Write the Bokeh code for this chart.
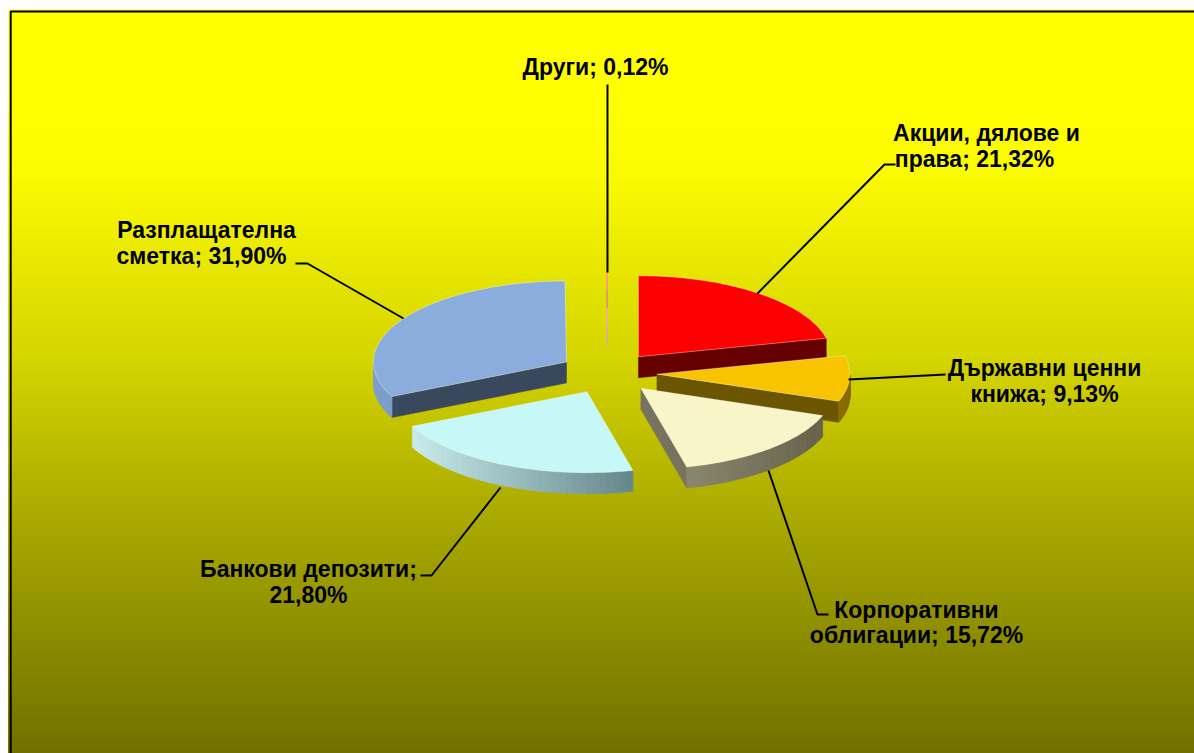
import numpy as np
from bokeh.plotting import figure
from bokeh.models import Range1d
from bokeh.core.properties import value
from bokeh.embed import file_html
from bokeh.resources import INLINE

# ---- data ----
categories = ["Акции, дялове и права", "Държавни ценни книжа", "Корпоративни облигации",
              "Банкови депозити", "Разплащателна сметка", "Други"]
shares = [21.32, 9.13, 15.72, 21.80, 31.90, 0.12]
top_colors = ["#ff0000", "#f8c400", "#f8f6c8", "#c6f8f8", "#8aadde", "#e8a080"]
face_colors = ["#660000", "#6b5500", "#77735e", "#7f9a9a", "#3a485e", "#e8a080"]
rim_left = ["#660000", "#8a6d00", "#8a8770", "#c8ecec", "#7fa0d0", "#e8a080"]
rim_right = ["#660000", "#8a6d00", "#66624c", "#64868c", "#7b9bcc", "#e8a080"]

W, H = 1194, 753
p = figure(width=W, height=H, x_range=Range1d(0, 1194), y_range=Range1d(753, 0),
           output_backend="svg", toolbar_location=None, min_border=0)
p.axis.visible = False
p.grid.visible = False
p.outline_line_color = None
p.background_fill_color = None
p.border_fill_color = "white"

# ---- background gradient ----
g_y = np.array([9, 100, 165, 260, 360, 490, 620, 753], dtype=float)
g_v = np.array([255, 255, 252, 232, 212, 176, 144, 112], dtype=float)
rows = np.arange(9, 753, 1.0)
vals = np.interp(rows, g_y, g_v).round().astype(int)
keep = np.r_[True, vals[1:] != vals[:-1]]
rows, vals = rows[keep], vals[keep]
p.quad(left=8, right=1194, top=rows, bottom=753,
       color=[f"#{v:02x}{v:02x}00" for v in vals], line_color=None)

# border
p.line([10.2, 10.2, 1194], [753, 11, 11], line_color="black", line_width=2)

# ---- pie geometry ----
cx, cy, rx, ry, depth = 607.5, 372.5, 193.0, 81.0, 21.0
ex, ey = 49.0, 20.7

total = sum(shares)
bounds = np.concatenate([[0], np.cumsum(shares) / total * 2 * np.pi])


def hexrgb(h):
    return np.array([int(h[i:i + 2], 16) for i in (1, 3, 5)], dtype=float)


def mix(a, b, t):
    c = hexrgb(a) * (1 - t) + hexrgb(b) * t
    return "#%02x%02x%02x" % tuple(int(round(v)) for v in c)


slices = []
for i in range(len(shares)):
    t0, t1 = bounds[i], bounds[i + 1]
    mid = (t0 + t1) / 2
    ax, ay = cx + ex * np.sin(mid), cy - ey * np.cos(mid)
    slices.append((i, t0, t1, ax, ay))

draw_order = [5, 0, 1, 2, 3, 4]
for i in draw_order:
    _, t0, t1, ax, ay = slices[i]
    if shares[i] < 1:
        # hair-thin slice: only a sliver is visible
        xo = ax + rx * np.sin((t0 + t1) / 2)
        yo = ay - ry
        ye = yo + 0.91 * ry
        seg = np.linspace(yo, ye, 5)
        cols = ["#ff9a80", "#d89a70", "#f0b090", "#d8b090"]
        for k in range(4):
            p.line([xo, xo], [seg[k], seg[k + 1]], line_color=cols[k], line_width=2)
        continue
    th = np.linspace(t0, t1, 90)
    ox = ax + rx * np.sin(th)
    oy = ay - ry * np.cos(th)
    # radial faces
    if np.sin(t0) < 0:
        xe, ye = ax + rx * np.sin(t0), ay - ry * np.cos(t0)
        p.patch([ax, xe, xe, ax], [ay, ye, ye + depth, ay + depth],
                fill_color=face_colors[i], line_color=face_colors[i], line_width=0.5)
    if np.sin(t1) > 0:
        xe, ye = ax + rx * np.sin(t1), ay - ry * np.cos(t1)
        p.patch([ax, xe, xe, ax], [ay, ye, ye + depth, ay + depth],
                fill_color=face_colors[i], line_color=face_colors[i], line_width=0.5)
    # rim
    lo, hi = max(t0, np.pi / 2), min(t1, 3 * np.pi / 2)
    if hi > lo:
        rt = np.linspace(lo, hi, 40)
        rxs = ax + rx * np.sin(rt)
        rys = ay - ry * np.cos(rt)
        xmin, xmax = rxs.min(), rxs.max()
        for k in range(len(rt) - 1):
            t = (0.5 * (rxs[k] + rxs[k + 1]) - xmin) / max(xmax - xmin, 1)
            col = mix(rim_left[i], rim_right[i], t)
            p.patch([rxs[k], rxs[k + 1], rxs[k + 1], rxs[k]],
                    [rys[k], rys[k + 1], rys[k + 1] + depth, rys[k] + depth],
                    fill_color=col, line_color=col, line_width=0.7)
    # top surface
    p.patch(np.r_[ax, ox], np.r_[ay, oy], fill_color=top_colors[i],
            line_color="white", line_alpha=0.35, line_width=1)

# ---- leader lines ----
leaders = [
    ([757, 884, 895], [293, 164, 164]),
    ([848, 945], [379, 374]),
    ([768, 817, 828], [470, 614, 614]),
    ([500, 431, 420], [487, 575, 575]),
    ([403, 307, 295], [318, 263, 263]),
    ([607, 607], [272, 84]),
]
for xs, ys in leaders:
    p.line(xs, ys, line_color="black", line_width=2)


# ---- labels ----
def pct(v):
    return f"{v:.2f}".replace(".", ",") + "%"


lines = [
    ("Акции, дялове и", 986, 132.5),
    (f"права; {pct(shares[0])}", 974, 158.5),
    ("Държавни ценни", 1044, 367),
    (f"книжа; {pct(shares[1])}", 1044, 393),
    ("Корпоративни", 916, 609),
    (f"облигации; {pct(shares[2])}", 916, 634),
    ("Банкови депозити;", 308, 568),
    (pct(shares[3]), 308, 594),
    ("Разплащателна", 206, 229),
    (f"сметка; {pct(shares[4])}", 201, 255),
    (f"Други; {pct(shares[5])}", 595, 66.5),
]
p.text([l[1] for l in lines], [l[2] for l in lines], text=[l[0] for l in lines],
       text_font=value("Liberation Sans"), text_font_style="bold", text_font_size="23px",
       text_color="black", text_align="center", text_baseline="alphabetic")

open("out.html", "w").write(file_html(p, INLINE))
